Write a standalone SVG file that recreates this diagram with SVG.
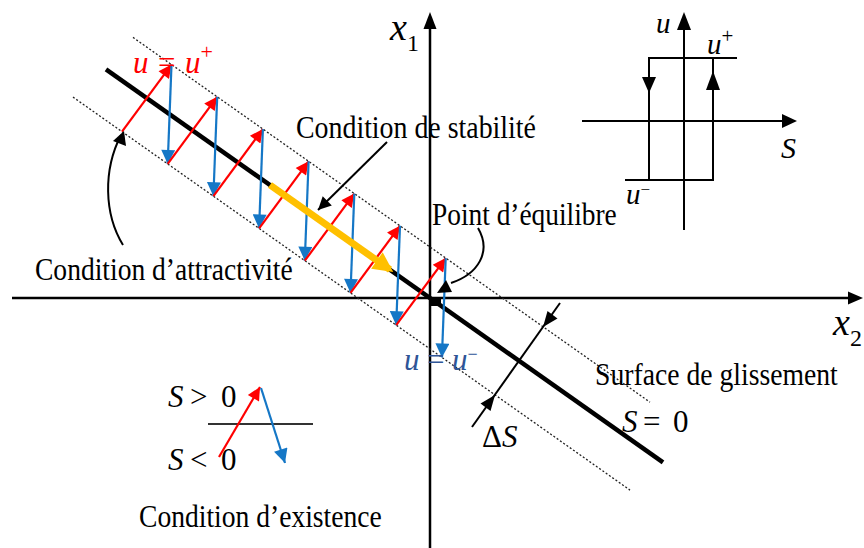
<svg xmlns="http://www.w3.org/2000/svg" width="864" height="548" viewBox="0 0 864 548">
<style>
.t{font-family:"Liberation Serif","Times New Roman",serif;font-size:32px;fill:#000}
.m{font-family:"Liberation Serif","Times New Roman",serif;font-style:italic;font-size:31px}
.r{font-family:"Liberation Serif","Times New Roman",serif;font-style:normal;font-size:31px}
.ax{stroke:#000;stroke-width:2.5;fill:none}
.ln{stroke:#000;stroke-width:2;fill:none}
.dot{stroke:#222;stroke-width:1.3;stroke-dasharray:2 2;fill:none}
.red{stroke:#FF0000;stroke-width:2.2;fill:none;marker-end:url(#mr)}
.blue{stroke:#1577C6;stroke-width:2.2;fill:none;marker-end:url(#mb)}
</style>
<defs>
<marker id="mr" viewBox="0 0 10 10" refX="10" refY="5" markerWidth="16" markerHeight="13" markerUnits="userSpaceOnUse" orient="auto"><path d="M0,0 L10,5 L0,10 z" fill="#FF0000"/></marker>
<marker id="mb" viewBox="0 0 10 10" refX="10" refY="5" markerWidth="17" markerHeight="14" markerUnits="userSpaceOnUse" orient="auto"><path d="M0,0 L10,5 L0,10 z" fill="#1577C6"/></marker>
<marker id="mk" viewBox="0 0 10 10" refX="10" refY="5" markerWidth="16" markerHeight="13" markerUnits="userSpaceOnUse" orient="auto"><path d="M0,0 L10,5 L0,10 z" fill="#000"/></marker>
<marker id="my" viewBox="0 0 10 10" refX="8" refY="5" markerWidth="22" markerHeight="20" markerUnits="userSpaceOnUse" orient="auto"><path d="M0,0 L10,5 L0,10 z" fill="#FFC000"/></marker>
</defs>
<rect width="864" height="548" fill="#fff"/>

<g id="axes">
<line class="ax" x1="12" y1="298" x2="850" y2="298"/>
<path d="M863,298 L848,291.5 L848,304.5 z" fill="#000"/>
<line class="ax" x1="430" y1="548" x2="430" y2="26"/>
<path d="M430,12 L423.5,29 L436.5,29 z" fill="#000"/>
<text class="m" x="390" y="40" style="font-size:38px">x<tspan style="font-style:normal;font-size:24px" dy="11">1</tspan></text>
<text class="m" x="833" y="335" style="font-size:38px">x<tspan style="font-style:normal;font-size:24px" dy="11">2</tspan></text>
</g>

<g id="band">
<line class="dot" x1="133" y1="37.4" x2="650" y2="402.2"/>
<line class="dot" x1="73" y1="97.1" x2="630" y2="490.1"/>
</g>

<g id="surface">
<line stroke="#000" stroke-width="4.5" x1="106" y1="69.4" x2="663" y2="462.4"/>
<rect x="431" y="298" width="10" height="8" fill="#000"/>
</g>

<g id="connectors">
<line class="red" x1="122" y1="131.7" x2="171.5" y2="64.6"/>
<line class="blue" x1="171.5" y1="64.6" x2="167.7" y2="163.9"/>
<line class="red" x1="167.7" y1="163.9" x2="217.2" y2="96.8"/>
<line class="blue" x1="217.2" y1="96.8" x2="213.4" y2="196.2"/>
<line class="red" x1="213.4" y1="196.2" x2="262.9" y2="129.1"/>
<line class="blue" x1="262.9" y1="129.1" x2="259.1" y2="228.4"/>
<line class="red" x1="259.1" y1="228.4" x2="308.6" y2="161.3"/>
<line class="blue" x1="308.6" y1="161.3" x2="304.8" y2="260.7"/>
<line class="red" x1="304.8" y1="260.7" x2="354.3" y2="193.6"/>
<line class="blue" x1="354.3" y1="193.6" x2="350.5" y2="292.9"/>
<line class="red" x1="350.5" y1="292.9" x2="400" y2="225.8"/>
<line class="blue" x1="400" y1="225.8" x2="396.2" y2="325.2"/>
<line class="red" x1="396.2" y1="325.2" x2="445.7" y2="258.1"/>
<line class="blue" x1="445.7" y1="258.1" x2="441.9" y2="357.4"/>
<line stroke="#FFC000" stroke-width="7" x1="270" y1="185" x2="390" y2="269.7" marker-end="url(#my)"/>
<line class="ln" x1="387" y1="142" x2="318" y2="210" marker-end="url(#mk)"/>
<path class="ln" d="M123,245 C104,214 103,170 121,135"/>
<path d="M124,131 L113,141 L126,146 z" fill="#000"/>
<path class="ln" d="M478,228 C492,252 478,274 451,283"/>
<path d="M446,280 L437,293 L452,292 z" fill="#000"/>
<line class="ln" x1="560" y1="303" x2="472" y2="427"/>
<path d="M543,327 L547.5,311 L557.5,318.5 z" fill="#000"/>
<path d="M495,395 L490.5,411 L480.5,403.5 z" fill="#000"/>
</g>

<g id="label-uplus" style="fill:#FF0000">
<text class="m" x="133" y="73">u</text>
<text class="r" x="158" y="73">=</text>
<text class="m" x="185" y="73">u<tspan style="font-style:normal;font-size:22px" dy="-14">+</tspan></text>
</g>
<g id="label-uminus" style="fill:#2F5597">
<text class="m" x="404" y="370">u</text>
<text class="r" x="427" y="370">=</text>
<text class="m" x="452" y="370">u<tspan style="font-style:normal;font-size:18px" dy="-10">−</tspan></text>
</g>

<g id="stabilite"><text class="t" transform="translate(296,138) scale(0.871,1)">Condition de stabilité</text></g>
<g id="equilibre"><text class="t" transform="translate(432,225) scale(0.856,1)">Point d’équilibre</text></g>
<g id="attractivite"><text class="t" transform="translate(35,280) scale(0.861,1)">Condition d’attractivité</text></g>
<g id="glissement">
<text class="t" transform="translate(595,385) scale(0.865,1)">Surface de glissement</text>
<text class="m" x="622" y="432">S</text>
<text class="r" x="643" y="432">=</text>
<text class="r" x="673" y="432">0</text>
</g>
<g id="deltaS">
<text class="r" x="482" y="447">Δ<tspan style="font-style:italic">S</tspan></text>
</g>

<g id="inset">
<line class="ln" x1="684" y1="230" x2="684" y2="28"/>
<path d="M684,12 L677,30 L691,30 z" fill="#000"/>
<line class="ln" x1="582" y1="121" x2="784" y2="121"/>
<path d="M797,121 L782,114 L782,128 z" fill="#000"/>
<path class="ln" d="M737,58 L649,58 L649,180"/>
<path d="M649,93 L642,77 L656,77 z" fill="#000"/>
<path class="ln" d="M625,180 L713,180 L713,58"/>
<path d="M713,71 L706,90 L720,90 z" fill="#000"/>
<text class="m" x="656" y="33" style="font-size:29px">u</text>
<text class="m" x="707" y="54" style="font-size:29px">u<tspan style="font-style:normal;font-size:21px" dy="-11">+</tspan></text>
<text class="m" x="626" y="204" style="font-size:29px">u<tspan style="font-style:normal;font-size:17px" dy="-9">−</tspan></text>
<text class="m" x="781" y="158" style="font-size:30px">S</text>
</g>

<g id="existence">
<text class="m" x="168" y="407">S</text>
<text class="r" x="190" y="407">&gt;</text>
<text class="r" x="221" y="407">0</text>
<line stroke="#333" stroke-width="2" x1="208" y1="424" x2="313" y2="424"/>
<text class="m" x="168" y="470">S</text>
<text class="r" x="190" y="470">&lt;</text>
<text class="r" x="221" y="470">0</text>
<line class="red" x1="219" y1="457" x2="260" y2="387"/>
<line class="blue" x1="261" y1="388" x2="285" y2="463"/>
<text class="t" transform="translate(139,527) scale(0.862,1)">Condition d’existence</text>
</g>
</svg>
